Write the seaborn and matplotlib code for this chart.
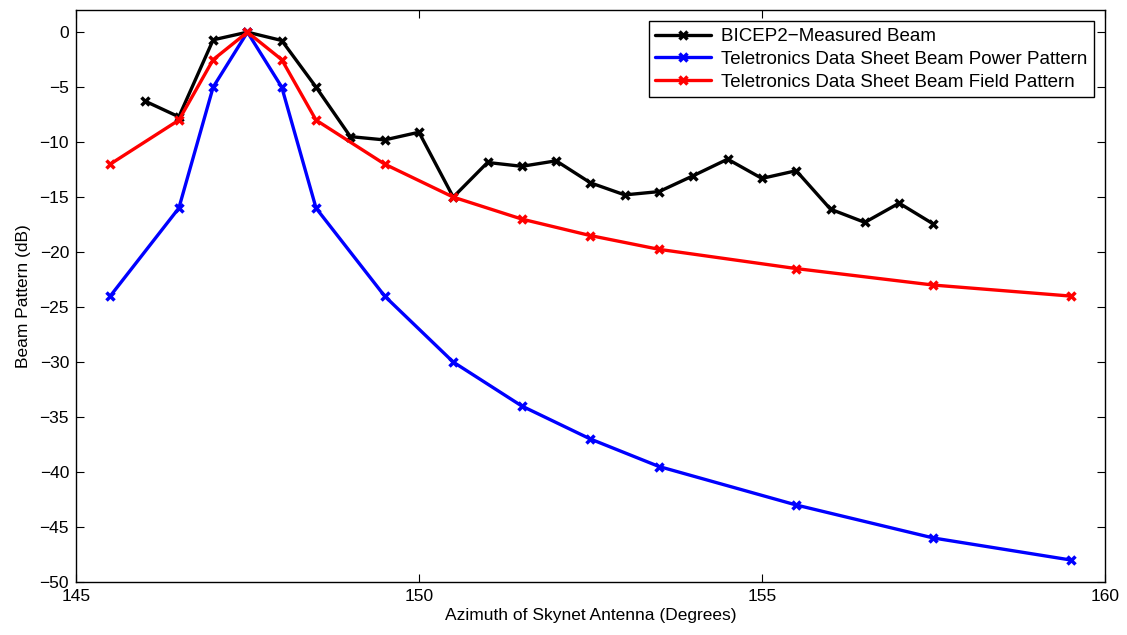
import numpy as np
import pandas as pd
import matplotlib
matplotlib.use('Agg')
import matplotlib.pyplot as plt
import seaborn as sns

# measured beam
meas_az = [146.0, 146.5, 147.0, 147.5, 148.0, 148.5, 149.0, 149.5, 150.0, 150.5,
           151.0, 151.5, 152.0, 152.5, 153.0, 153.5, 154.0, 154.5, 155.0, 155.5,
           156.0, 156.5, 157.0, 157.5]
meas_db = [-6.25, -7.7, -0.7, 0.0, -0.76, -5.0, -9.5, -9.8, -9.1, -15.0,
           -11.85, -12.2, -11.7, -13.7, -14.8, -14.5, -13.05, -11.55, -13.3, -12.6,
           -16.1, -17.3, -15.55, -17.45]

# data sheet patterns
sheet_az = [145.5, 146.5, 147.0, 147.5, 148.0, 148.5, 149.5, 150.5, 151.5, 152.5,
            153.5, 155.5, 157.5, 159.5]
power_db = [-24, -16, -5, 0, -5, -16, -24, -30, -34, -37, -39.5, -43, -46, -48]
field_db = [-12, -8, -2.5, 0, -2.5, -8, -12, -15, -17, -18.5, -19.75, -21.5, -23, -24]

labels = ['BICEP2\u2212Measured Beam',
          'Teletronics Data Sheet Beam Power Pattern',
          'Teletronics Data Sheet Beam Field Pattern']

sns.set_style('ticks')
plt.rcParams['font.family'] = ['Liberation Sans', 'DejaVu Sans']
plt.rcParams['text.color'] = 'black'
plt.rcParams['axes.labelcolor'] = 'black'
plt.rcParams['xtick.color'] = 'black'
plt.rcParams['ytick.color'] = 'black'
plt.rcParams['axes.edgecolor'] = 'black'

fig = plt.figure(figsize=(11.27, 6.35), dpi=100)
ax = fig.add_axes([0.0674, 0.0835, 0.913, 0.9005])

series = [(meas_az, meas_db, 'black'), (sheet_az, power_db, 'blue'), (sheet_az, field_db, 'red')]
for (xs, ys, c), lab in zip(series, labels):
    sns.lineplot(x=xs, y=ys, color=c, label=lab, marker='x', markersize=6,
                 markeredgewidth=2.5, markeredgecolor=c, linewidth=2.4, ax=ax)

ax.set_xlim(145, 160)
ax.set_ylim(-50, 2)
ax.set_xticks([145, 150, 155, 160])
ax.set_yticks(np.arange(-50, 1, 5))
ax.tick_params(direction='in', top=True, right=True, labelsize=12.5, length=6, width=0.8, pad=5)
for s in ax.spines.values():
    s.set_linewidth(1.0)
ax.set_xlabel('Azimuth of Skynet Antenna (Degrees)', fontsize=12.5, labelpad=3)
ax.set_ylabel('Beam Pattern (dB)', fontsize=12.5, labelpad=6)

leg = ax.legend(loc='upper right', fontsize=13.5, frameon=True, fancybox=False,
                edgecolor='black', framealpha=1, borderaxespad=0.6,
                handlelength=3.0, labelspacing=0.3, borderpad=0.35, handletextpad=0.5)
leg.get_frame().set_linewidth(1.0)

fig.savefig('out.png', dpi=100)
